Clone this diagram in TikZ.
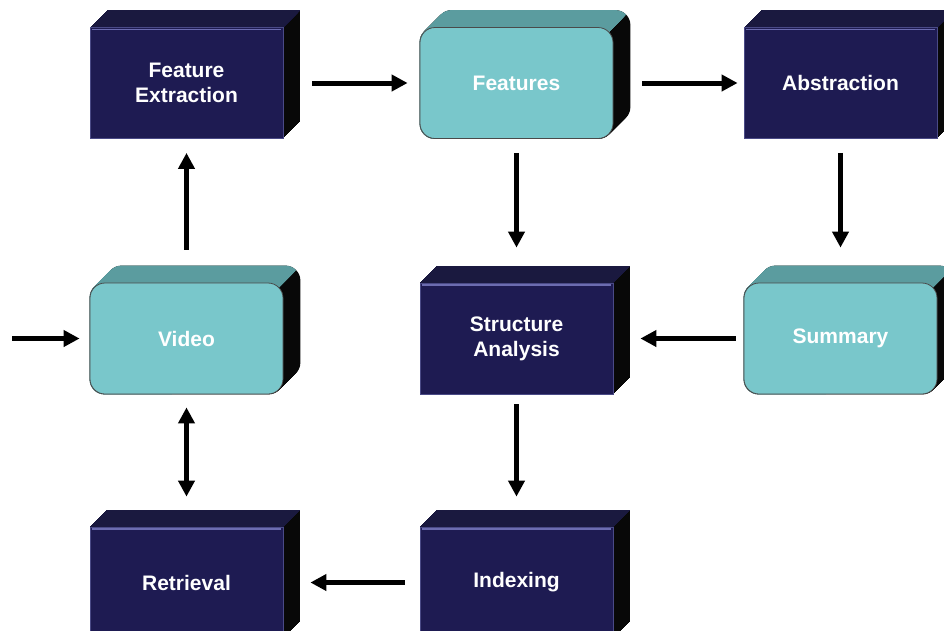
\documentclass[tikz,border=0pt]{standalone}
\usepackage{fontspec}
\setmainfont{Liberation Sans}
\usetikzlibrary{arrows.meta,calc,backgrounds}

\definecolor{navyfront}{HTML}{1E1B52}
\definecolor{navytop}{HTML}{1A193F}
\definecolor{navyedge}{HTML}{4A4A86}
\definecolor{navyhi}{HTML}{6C6CB0}
\definecolor{tealfront}{HTML}{79C7CB}
\definecolor{tealtop}{HTML}{5B9C9F}
\definecolor{tealedge}{HTML}{4A4A4A}
\definecolor{sideblack}{HTML}{080808}

\tikzset{
  blockbase/.style={minimum width=193pt, minimum height=111pt, inner sep=0pt,
    align=center, text=white, font=\fontsize{21pt}{25pt}\selectfont\bfseries},
  navyblock/.style={blockbase, fill=navyfront, draw=navyedge, line width=0.8pt},
  tealblock/.style={blockbase, fill=tealfront, draw=tealedge, line width=0.8pt,
    rounded corners=15pt},
  arr/.style={line width=5pt, -{Triangle[length=16pt,width=16pt]}},
  dblarr/.style={line width=5pt,
    {Triangle[length=16pt,width=16pt]}-{Triangle[length=16pt,width=16pt]}},
}

% Depth of a block: black side face, coloured top face (behind the front face)
\newcommand\extrude[3]{% #1 node, #2 top colour, #3 corner radius
  \begin{scope}[on background layer]
    \foreach \k in {0,0.5,...,17}{
      \fill[sideblack, rounded corners=#3pt]
        ($(#1.south west)+(\k,-\k)$) rectangle ($(#1.north east)+(\k,-\k)$);
    }
    \begin{scope}
      \coordinate (p) at ($(#1.north east)+(-0.29*#3,0.29*#3)$);
      \clip ($(p)+(150,-150)$) -- ($(p)+(-400,400)$) -- ($(p)+(-400,-150)$) -- cycle;
      \foreach \k in {0,0.5,...,17}{
        \fill[#2, rounded corners=#3pt]
          ($(#1.south west)+(\k,-\k)$) rectangle ($(#1.north east)+(\k,-\k)$);
      }
    \end{scope}
  \end{scope}}

% Light bevel along the top of a navy front face
\newcommand\bevel[1]{%
  \draw[navyhi, line width=1.6pt] ($(#1.north west)+(2,2.5)$) -- ($(#1.north east)+(-2,2.5)$);}

\begin{document}
\begin{tikzpicture}[x=1pt, y=-1pt]
  \useasboundingbox (0,0) rectangle (944,630);

  % blocks
  \node[navyblock] (fe)   at (186.5, 83)  {Feature\\Extraction};
  \node[tealblock] (feat) at (516.5, 83)  {Features};
  \node[navyblock] (abs)  at (840.5, 83)  {Abstraction};
  \node[tealblock] (vid)  at (186.5, 338.5) {Video};
  \node[navyblock] (sa)   at (516.5, 338.5) {Structure\\Analysis};
  \node[tealblock] (sum)  at (840.5, 338.5) {Summary};
  \node[navyblock] (ret)  at (186.5, 582.5) {Retrieval};
  \node[navyblock] (idx)  at (516.5, 582.5) {Indexing};

  \extrude{fe}{navytop}{0}
  \extrude{feat}{tealtop}{15}
  \extrude{abs}{navytop}{0}
  \extrude{vid}{tealtop}{15}
  \extrude{sa}{navytop}{0}
  \extrude{sum}{tealtop}{15}
  \extrude{ret}{navytop}{0}
  \extrude{idx}{navytop}{0}

  \bevel{fe}
  \bevel{abs}
  \bevel{sa}
  \bevel{ret}
  \bevel{idx}

  % connectors
  \coordinate (in) at (12, 338.5);
  \draw[arr, shorten <=29pt, shorten >=12pt] (fe) -- (feat);
  \draw[arr, shorten <=29pt, shorten >=6pt]  (feat) -- (abs);
  \draw[arr, shorten <=14pt, shorten >=35pt] (feat) -- (sa);
  \draw[arr, shorten <=14pt, shorten >=35pt] (abs) -- (sum);
  \draw[arr, shorten <=8pt,  shorten >=27pt] (sum) -- (sa);
  \draw[arr, shorten <=33pt, shorten >=14pt] (vid) -- (fe);
  \draw[arr, shorten >=10pt] (in) -- (vid);
  \draw[dblarr, shorten <=13pt, shorten >=30pt] (vid) -- (ret);
  \draw[arr, shorten <=10pt, shorten >=30pt] (sa) -- (idx);
  \draw[arr, shorten <=15pt, shorten >=27pt] (idx) -- (ret);
\end{tikzpicture}
\end{document}
